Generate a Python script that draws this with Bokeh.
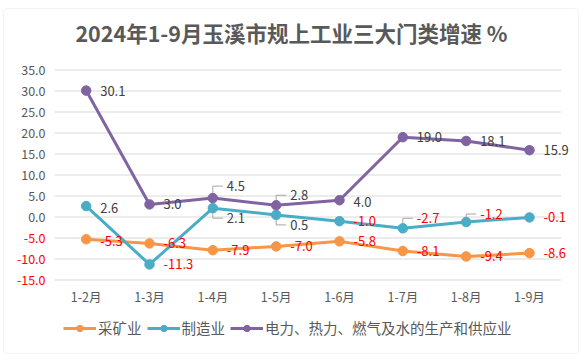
from bokeh.plotting import figure
from bokeh.models import (ColumnDataSource, Range1d, Legend, LegendItem, Label, BoxAnnotation)
from bokeh.core.properties import value
from bokeh.embed import file_html
from bokeh.resources import INLINE

months = ["1-2月", "1-3月", "1-4月", "1-5月", "1-6月", "1-7月", "1-8月", "1-9月"]
mining = [-5.3, -6.3, -7.9, -7.0, -5.8, -8.1, -9.4, -8.6]
manufacturing = [2.6, -11.3, 2.1, 0.5, -1.0, -2.7, -1.2, -0.1]
utilities = [30.1, 3.0, 4.5, 2.8, 4.0, 19.0, 18.1, 15.9]
series_names = ["采矿业", "制造业", "电力、热力、燃气及水的生产和供应业"]
yticks = [-15, -10, -5, 0, 5, 10, 15, 20, 25, 30, 35]
title = "2024年1-9月玉溪市规上工业三大门类增速 %"

colors = ["#F79646", "#4BACC6", "#8064A2"]
FONT = "Noto Sans CJK SC"
GRAY = "#595959"
RED = "#FF0000"
W, H = 583, 359
X0, X1, Y0, Y1 = -1.353, 7.853, -33.93, 51.55

# frame covers the whole canvas; ranges chosen so the plot area sits like the original
p = figure(width=W, height=H, x_range=Range1d(X0, X1), y_range=Range1d(Y0, Y1),
           output_backend="svg", toolbar_location=None, min_border=0)
p.axis.visible = False
p.grid.visible = False
p.outline_line_color = None
px_x = W / (X1 - X0)   # pixels per x unit
px_y = H / (Y1 - Y0)   # pixels per y unit

xs = list(range(len(months)))
x_lo, x_hi = -0.5, len(months) - 0.5

# outer chart border
p.add_layout(BoxAnnotation(left=3, right=578, bottom=6, top=351,
                           left_units="screen", right_units="screen",
                           bottom_units="screen", top_units="screen",
                           fill_alpha=0, line_color="#D9D9D9", line_width=1,
                           border_radius=4))

# horizontal gridlines
p.segment(x0=[x_lo] * len(yticks), x1=[x_hi] * len(yticks), y0=yticks, y1=yticks,
          line_color="#D9D9D9", line_width=1)

# y tick labels (negatives red)
p.text(x=[x_lo] * len(yticks), y=yticks, text=[f"{v:.1f}" for v in yticks],
       x_offset=-9, text_align="right", text_baseline="middle",
       text_color=[RED if v < 0 else GRAY for v in yticks],
       text_font=value(FONT), text_font_size="12.5px")

# x tick labels
p.text(x=xs, y=[yticks[0]] * len(xs), text=months, y_offset=17,
       text_align="center", text_baseline="middle", text_color=GRAY,
       text_font=value(FONT), text_font_size="12.5px")

all_series = [mining, manufacturing, utilities]

# data labels (screen offsets: positive y_offset moves down)
dy_special = {(1, 2): 10, (1, 3): 10, (1, 5): -10, (1, 6): -8,
              (2, 2): -12, (2, 3): -10, (2, 4): 2, (0, 0): 2, (1, 0): 2}
lx, ly, lt, lc, loy = [], [], [], [], []
lead_x, lead_y = [], []
for si, vals in enumerate(all_series):
    for i, v in enumerate(vals):
        oy = dy_special.get((si, i), 0)
        lx.append(xs[i]); ly.append(v); lt.append(f"{v:.1f}")
        lc.append(RED if v < 0 else "#404040")
        loy.append(oy)
        if abs(oy) >= 8:  # leader line: vertical from marker, then short horizontal
            s = -1 if oy < 0 else 1
            y_start = v - s * 5 / px_y
            y_end = v - oy / px_y
            lead_x.append([xs[i], xs[i], xs[i] + 10 / px_x])
            lead_y.append([y_start, y_end, y_end])
p.multi_line(lead_x, lead_y, line_color="#A6A6A6", line_width=1)

items = []
for name, vals, col in zip(series_names, all_series, colors):
    src = ColumnDataSource(dict(x=xs, y=vals))
    r1 = p.line("x", "y", source=src, line_color=col, line_width=3)
    r2 = p.scatter("x", "y", source=src, size=9.5, fill_color=col, line_color=col)
    items.append(LegendItem(label=name, renderers=[r1, r2]))

lsrc = ColumnDataSource(dict(x=lx, y=ly, t=lt, c=lc, oy=loy))
p.text(x="x", y="y", text="t", source=lsrc, x_offset=14, y_offset="oy",
       text_align="left", text_baseline="middle", text_color="c",
       text_font=value(FONT), text_font_size="13px")

# title
p.add_layout(Label(x=291, y=327, x_units="screen", y_units="screen", text=title,
                   text_align="center", text_baseline="middle", text_color=GRAY,
                   text_font=FONT, text_font_size="21.5px", text_font_style="bold"))

legend = Legend(items=items, orientation="horizontal", location=(63, 21),
                label_text_font=FONT, label_text_font_size="14.5px", label_text_color=GRAY,
                glyph_width=33, glyph_height=16, label_height=18, spacing=5, label_standoff=2,
                padding=0, margin=0, border_line_color=None, background_fill_alpha=0)
p.add_layout(legend)

open("out.html", "w").write(file_html(p, INLINE))
